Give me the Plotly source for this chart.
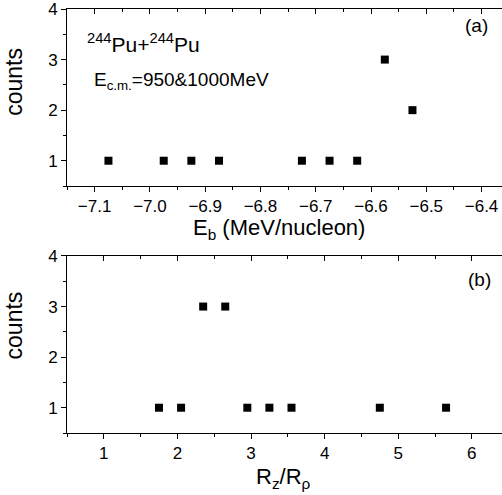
import plotly.graph_objects as go

# Panel (a): binding energy distribution
eb_values = [-7.075, -6.975, -6.925, -6.875, -6.725, -6.675, -6.625, -6.575, -6.525]
eb_counts = [1, 1, 1, 1, 1, 1, 1, 3, 2]

# Panel (b): deformation ratio distribution
ratio_values = [1.75, 2.05, 2.35, 2.65, 2.95, 3.25, 3.55, 4.75, 5.65]
ratio_counts = [1, 1, 3, 3, 1, 1, 1, 1, 1]

FONT = "Liberation Sans, Arial, sans-serif"
BLACK = "#000000"

fig = go.Figure()

marker = dict(symbol="square", size=8, color=BLACK)
fig.add_trace(go.Scatter(x=eb_values, y=eb_counts, mode="markers", marker=marker,
                         xaxis="x", yaxis="y", showlegend=False))
fig.add_trace(go.Scatter(x=ratio_values, y=ratio_counts, mode="markers", marker=marker,
                         xaxis="x2", yaxis="y2", showlegend=False))
# empty traces so the mirrored top axes (inward ticks) get drawn
fig.add_trace(go.Scatter(x=[], y=[], xaxis="x3", yaxis="y", showlegend=False))
fig.add_trace(go.Scatter(x=[], y=[], xaxis="x4", yaxis="y2", showlegend=False))

tickfont = dict(family=FONT, size=17, color=BLACK)

def xax(rng, tick0, dtick, mdtick, domain_anchor, fmt):
    return dict(range=rng, tick0=tick0, dtick=dtick, tickformat=fmt,
                ticks="outside", ticklen=5, tickwidth=1, tickcolor=BLACK,
                minor=dict(ticks="outside", ticklen=3, dtick=mdtick, tickcolor=BLACK),
                showline=True, linecolor=BLACK, linewidth=1, mirror=False,
                showgrid=False, zeroline=False, tickfont=tickfont,
                ticklabeloverflow="allow",
                anchor=domain_anchor, domain=[0, 1])

def topax(rng, tick0, dtick, mdtick, over, anchor):
    return dict(range=rng, tick0=tick0, dtick=dtick, overlaying=over, side="top",
                anchor=anchor, ticks="inside", ticklen=5, tickwidth=1, tickcolor=BLACK,
                minor=dict(ticks="inside", ticklen=3, dtick=mdtick, tickcolor=BLACK),
                showline=True, linecolor=BLACK, linewidth=1,
                showticklabels=False, showgrid=False, zeroline=False)

def yax(domain, anchor):
    return dict(range=[0.5, 4], tick0=1, dtick=1, domain=domain, anchor=anchor,
                ticks="outside", ticklen=5, tickwidth=1, tickcolor=BLACK,
                minor=dict(ticks="outside", ticklen=3, dtick=0.5, tickcolor=BLACK),
                showline=True, linecolor=BLACK, linewidth=1, mirror=False,
                showgrid=False, zeroline=False, tickfont=tickfont,
                ticklabeloverflow="allow")

eb_range = [-7.15, -6.363]
ratio_range = [0.5, 6.41]

fig.update_layout(
    width=502, height=495,
    margin=dict(l=67, r=0, t=9, b=62),
    paper_bgcolor="white", plot_bgcolor="white",
    xaxis=xax(eb_range, -7.1, 0.1, 0.05, "y", ".1f"),
    xaxis2=xax(ratio_range, 1, 1, 0.5, "y2", "d"),
    xaxis3=topax(eb_range, -7.1, 0.1, 0.05, "x", "y"),
    xaxis4=topax(ratio_range, 1, 1, 0.5, "x2", "y2"),
    yaxis=yax([0.5825, 1], "x"),
    yaxis2=yax([0, 0.4175], "x2"),
)

def ann(text, x, y, size, xanchor="center", angle=0):
    fig.add_annotation(text=text, x=x, y=y, xref="paper", yref="paper",
                       xanchor=xanchor, yanchor="middle", textangle=angle,
                       showarrow=False, font=dict(family=FONT, size=size, color=BLACK))

# axis titles
ann("counts", -0.122, 0.828, 23, angle=-90)
ann("counts", -0.122, 0.2535, 23, angle=-90)
ann("E<sub>b</sub> (MeV/nucleon)", 0.487, 0.48, 22)
ann("R<sub>z</sub>/R<sub>ρ</sub>", 0.4966, -0.106, 22)

# panel labels
ann("<sup>244</sup>Pu+<sup>244</sup>Pu", 0.041, 0.92, 21, xanchor="left")
ann("E<sub>c.m.</sub>=950&amp;1000MeV", 0.0575, 0.83, 19, xanchor="left")
ann("(a)", 0.9425, 0.96, 19)
ann("(b)", 0.949, 0.361, 19)

fig.write_html("out.html")
